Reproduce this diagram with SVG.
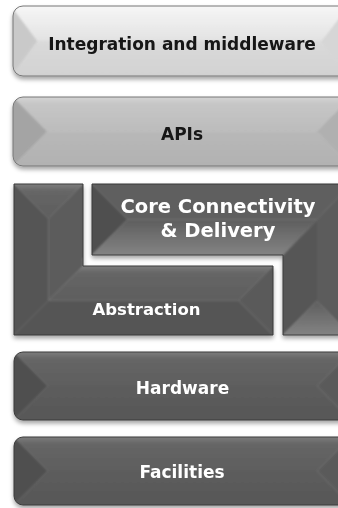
<svg xmlns="http://www.w3.org/2000/svg" width="338" height="508" viewBox="0 0 338 508">
  <defs>
    <style>
      .lbl { font-family: "DejaVu Sans", "Liberation Sans", sans-serif; font-weight: bold; text-anchor: middle; }
      .dark-lbl { fill: #ffffff; }
      .light-lbl { fill: #141414; }
      .edge-light { fill: none; stroke: #777777; stroke-width: 1; }
      .edge-dark { fill: none; stroke: #3a3a3a; stroke-width: 1; }
    </style>
    <filter id="shadow" x="-10%" y="-10%" width="120%" height="130%">
      <feDropShadow dx="0" dy="3" stdDeviation="2" flood-color="#000" flood-opacity="0.35"/>
    </filter>
    <!-- softens the seams between bevel faces -->
    <filter id="soft" x="-5%" y="-5%" width="110%" height="110%">
      <feGaussianBlur stdDeviation="1.2"/>
    </filter>
    <!-- light tier faces -->
    <linearGradient id="g1Top" x1="0" y1="0" x2="0" y2="1">
      <stop offset="0" stop-color="#fbfbfb"/>
      <stop offset="1" stop-color="#e2e2e2"/>
    </linearGradient>
    <linearGradient id="g1Bot" x1="0" y1="0" x2="0" y2="1">
      <stop offset="0" stop-color="#dadada"/>
      <stop offset="0.8" stop-color="#d2d2d2"/>
      <stop offset="1" stop-color="#a8a8a8"/>
    </linearGradient>
    <linearGradient id="g2Top" x1="0" y1="0" x2="0" y2="1">
      <stop offset="0" stop-color="#e4e4e4"/>
      <stop offset="0.35" stop-color="#c6c6c6"/>
      <stop offset="1" stop-color="#bcbcbc"/>
    </linearGradient>
    <linearGradient id="g2Bot" x1="0" y1="0" x2="0" y2="1">
      <stop offset="0" stop-color="#b8b8b8"/>
      <stop offset="0.8" stop-color="#b2b2b2"/>
      <stop offset="1" stop-color="#8e8e8e"/>
    </linearGradient>
    <!-- dark tier faces -->
    <linearGradient id="gdTop" x1="0" y1="0" x2="0" y2="1">
      <stop offset="0" stop-color="#9a9a9a"/>
      <stop offset="0.35" stop-color="#666666"/>
      <stop offset="1" stop-color="#5e5e5e"/>
    </linearGradient>
    <linearGradient id="gdBot" x1="0" y1="0" x2="0" y2="1">
      <stop offset="0" stop-color="#5c5c5c"/>
      <stop offset="0.85" stop-color="#585858"/>
      <stop offset="1" stop-color="#404040"/>
    </linearGradient>
    <linearGradient id="gdRise" x1="0" y1="0" x2="0" y2="1">
      <stop offset="0" stop-color="#5e5e5e"/>
      <stop offset="1" stop-color="#8c8c8c"/>
    </linearGradient>
    <clipPath id="c1"><rect x="13" y="6" width="345" height="70" rx="10"/></clipPath>
    <clipPath id="c2"><rect x="13" y="97" width="345" height="69" rx="10"/></clipPath>
    <clipPath id="c3"><path d="M92,184 H351 V335 H283 V255 H92 Z"/></clipPath>
    <clipPath id="c4"><path d="M14,184 H83 V266 H273 V335 H14 Z"/></clipPath>
    <clipPath id="c5"><rect x="14" y="352" width="345" height="68" rx="9"/></clipPath>
    <clipPath id="c6"><rect x="14" y="437" width="345" height="68" rx="9"/></clipPath>
  </defs>

  <rect width="338" height="508" fill="#ffffff"/>

  <!-- Integration and middleware -->
  <g id="integration" filter="url(#shadow)">
    <g clip-path="url(#c1)">
      <g filter="url(#soft)">
        <polygon points="5,-2 355,-2 322,41 37,41" fill="url(#g1Top)"/>
        <polygon points="5,84 355,84 322,41 37,41" fill="url(#g1Bot)"/>
        <polygon points="5,-2 37,41 5,84" fill="#c9c9c9"/>
        <polygon points="355,-2 322,41 355,84" fill="#d6d6d6"/>
      </g>
    </g>
    <rect x="13" y="6" width="345" height="70" rx="10" class="edge-light"/>
    <text x="182" y="50" class="lbl light-lbl" font-size="17">Integration and middleware</text>
  </g>

  <!-- APIs -->
  <g id="apis" filter="url(#shadow)">
    <g clip-path="url(#c2)">
      <g filter="url(#soft)">
        <polygon points="5,89 359,89 317,131.5 47,131.5" fill="url(#g2Top)"/>
        <polygon points="5,174 359,174 317,131.5 47,131.5" fill="url(#g2Bot)"/>
        <polygon points="5,89 47,131.5 5,174" fill="#a4a4a4"/>
        <polygon points="359,89 317,131.5 359,174" fill="#b0b0b0"/>
      </g>
    </g>
    <rect x="13" y="97" width="345" height="69" rx="10" class="edge-light"/>
    <text x="182" y="140" class="lbl light-lbl" font-size="17">APIs</text>
  </g>

  <!-- Core Connectivity & Delivery (inverted L) -->
  <g id="core" filter="url(#shadow)">
    <g clip-path="url(#c3)">
      <g filter="url(#soft)">
        <polygon points="84,176 359,176 317,219.5 127.5,219.5" fill="#5e5e5e"/>
        <polygon points="84,176 127.5,219.5 84,263" fill="#505050"/>
        <polygon points="84,263 127.5,219.5 317,219.5 283,255 283,263" fill="url(#gdRise)"/>
        <polygon points="275,263 283,255 317,219.5 317,301 275,343" fill="#565656"/>
        <polygon points="275,343 317,301 359,343" fill="url(#gdRise)"/>
        <polygon points="359,176 317,219.5 317,301 359,343" fill="#5c5c5c"/>
      </g>
    </g>
    <path d="M92,184 H351 V335 H283 V255 H92 Z" class="edge-dark"/>
    <text x="218" y="213" class="lbl dark-lbl" font-size="19.5">Core Connectivity</text>
    <text x="218" y="237" class="lbl dark-lbl" font-size="19.5">&amp; Delivery</text>
  </g>

  <!-- Abstraction (L shape) -->
  <g id="abstraction" filter="url(#shadow)">
    <g clip-path="url(#c4)">
      <g filter="url(#soft)">
        <polygon points="6,176 91,176 48.5,218.5" fill="url(#gdTop)"/>
        <polygon points="6,176 48.5,218.5 48.5,300.5 6,343" fill="#545454"/>
        <polygon points="91,176 48.5,218.5 48.5,300.5 83,266 91,258" fill="#5c5c5c"/>
        <polygon points="83,258 281,258 238.5,300.5 48.5,300.5 83,266" fill="url(#gdTop)"/>
        <polygon points="6,343 48.5,300.5 238.5,300.5 281,343" fill="#555555"/>
        <polygon points="281,258 238.5,300.5 281,343" fill="#5a5a5a"/>
      </g>
    </g>
    <path d="M14,184 H83 V266 H273 V335 H14 Z" class="edge-dark"/>
    <text x="146.5" y="315" class="lbl dark-lbl" font-size="16.5">Abstraction</text>
  </g>

  <!-- Hardware -->
  <g id="hardware" filter="url(#shadow)">
    <g clip-path="url(#c5)">
      <g filter="url(#soft)">
        <polygon points="6,344 359,344 317,386 48,386" fill="url(#gdTop)"/>
        <polygon points="6,428 359,428 317,386 48,386" fill="url(#gdBot)"/>
        <polygon points="6,344 48,386 6,428" fill="#505050"/>
        <polygon points="359,344 317,386 359,428" fill="#5a5a5a"/>
      </g>
    </g>
    <rect x="14" y="352" width="345" height="68" rx="9" class="edge-dark"/>
    <text x="182.5" y="394" class="lbl dark-lbl" font-size="17">Hardware</text>
  </g>

  <!-- Facilities -->
  <g id="facilities" filter="url(#shadow)">
    <g clip-path="url(#c6)">
      <g filter="url(#soft)">
        <polygon points="6,429 359,429 317,471 48,471" fill="url(#gdTop)"/>
        <polygon points="6,513 359,513 317,471 48,471" fill="url(#gdBot)"/>
        <polygon points="6,429 48,471 6,513" fill="#505050"/>
        <polygon points="359,429 317,471 359,513" fill="#5a5a5a"/>
      </g>
    </g>
    <rect x="14" y="437" width="345" height="68" rx="9" class="edge-dark"/>
    <text x="182" y="478" class="lbl dark-lbl" font-size="17">Facilities</text>
  </g>

  <!-- no connectors between the tiers -->
  <g id="connectors"/>
</svg>
